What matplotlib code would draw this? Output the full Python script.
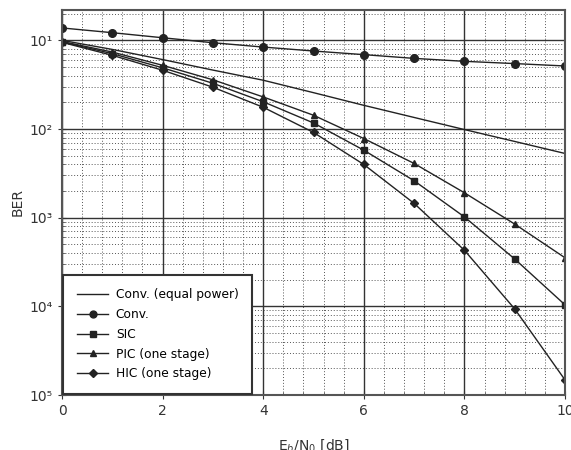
import numpy as np
import matplotlib.pyplot as plt
from matplotlib.ticker import FixedLocator, FixedFormatter, MultipleLocator, LogLocator, NullFormatter

# Eb/N0 in dB
snr_db = np.arange(0, 11)

# BER curves
ber_conv_equal = [0.100, 0.079, 0.0607, 0.0462, 0.0355, 0.0257, 0.0185, 0.0135, 0.00986, 0.00724, 0.0053]
ber_conv = [0.138, 0.122, 0.107, 0.094, 0.084, 0.0758, 0.069, 0.0626, 0.058, 0.0547, 0.0514]
ber_sic = [0.096, 0.0708, 0.049, 0.0328, 0.0203, 0.0117, 0.00577, 0.00261, 0.00102, 0.000342, 0.000104]
ber_pic = [0.097, 0.0738, 0.0523, 0.0359, 0.0230, 0.0143, 0.00781, 0.00409, 0.00191, 0.000847, 0.000353]
ber_hic = [0.095, 0.0678, 0.046, 0.0296, 0.0176, 0.00915, 0.00398, 0.00145, 0.000429, 0.0000935, 0.0000148]

ytick_vals = [1e-1, 1e-2, 1e-3, 1e-4, 1e-5]
ytick_labels = ["10¹", "10²", "10³", "10⁴", "10⁵"]

fig = plt.figure(figsize=(5.71, 4.5), dpi=100)
ax = fig.add_axes([0.1086, 0.1222, 0.8809, 0.8556])

c = "#222222"
ax.semilogy(snr_db, ber_conv_equal, "-", color=c, lw=1.0, label="Conv. (equal power)")
ax.semilogy(snr_db, ber_conv, "-o", color=c, lw=1.0, ms=5.5, label="Conv.")
ax.semilogy(snr_db, ber_sic, "-s", color=c, lw=1.0, ms=4.5, label="SIC")
ax.semilogy(snr_db, ber_pic, "-^", color=c, lw=1.0, ms=4.5, label="PIC (one stage)")
ax.semilogy(snr_db, ber_hic, "-D", color=c, lw=1.0, ms=4.5, label="HIC (one stage)")

ax.set_xlim(0, 10)
ax.set_ylim(1e-5, 0.22)
ax.xaxis.set_major_locator(MultipleLocator(2))
ax.xaxis.set_minor_locator(MultipleLocator(0.4))
ax.yaxis.set_major_locator(FixedLocator(ytick_vals))
ax.yaxis.set_major_formatter(FixedFormatter(ytick_labels))
ax.yaxis.set_minor_locator(LogLocator(base=10, subs=np.arange(2, 10), numticks=20))
ax.yaxis.set_minor_formatter(NullFormatter())

ax.grid(True, which="major", color="#333333", lw=1.0, ls="-")
ax.grid(True, which="minor", color="#555555", lw=0.7, ls=(0, (1, 2)))
ax.tick_params(which="major", direction="inout", length=6, labelsize=10, colors="#333333")
ax.tick_params(which="minor", direction="in", length=2, colors="#555555")
for s in ax.spines.values():
    s.set_color("#555555")
    s.set_linewidth(1.5)

ax.set_xlabel("E$_b$/N$_0$ [dB]", fontsize=10, color="#333333", labelpad=14)
ax.set_ylabel("BER", fontsize=10, color="#333333")

leg = ax.legend(loc="lower left", fontsize=8.8, frameon=True, fancybox=False,
                edgecolor="#333333", framealpha=1, borderaxespad=0.1,
                handlelength=2.6, handletextpad=0.6, borderpad=1.1,
                labelspacing=0.55, markerscale=0.9)
leg.get_frame().set_linewidth(1.5)

fig.savefig("out.png", dpi=100)
